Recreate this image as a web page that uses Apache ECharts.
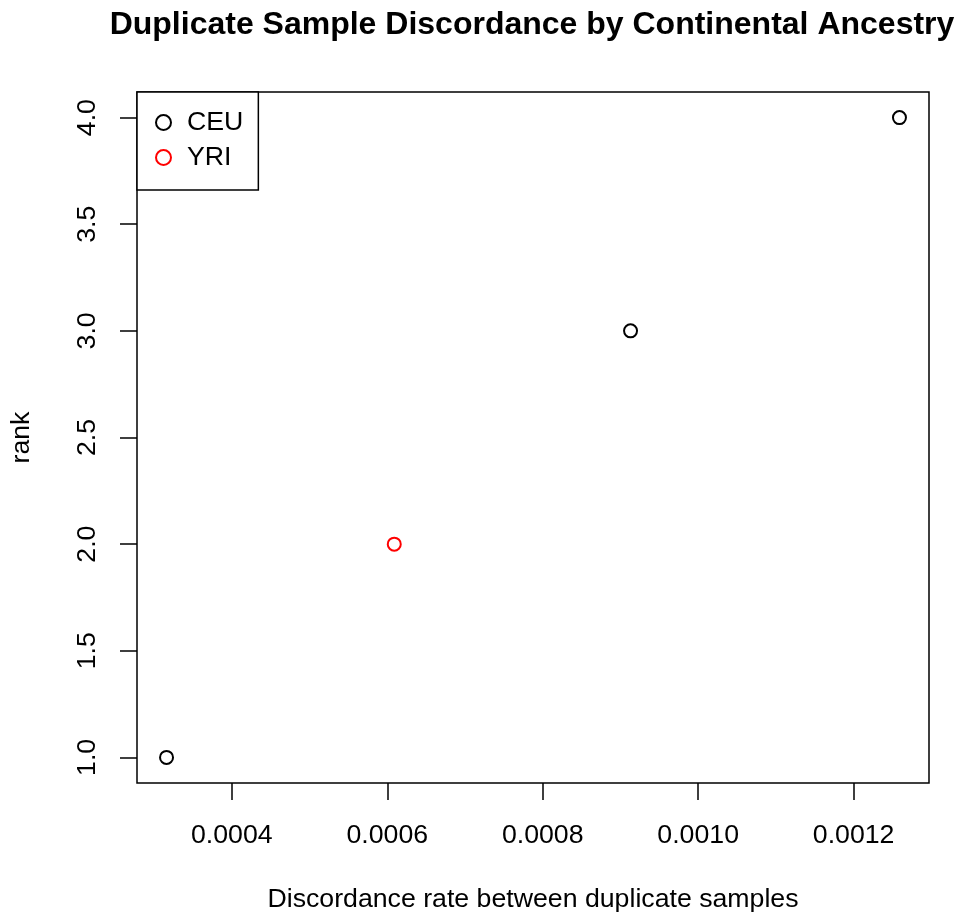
<!DOCTYPE html>
<html><head><meta charset="utf-8">
<script src="https://cdn.jsdelivr.net/npm/echarts@6/dist/echarts.min.js"></script>
<style>html,body{margin:0;padding:0;background:#fff}#c{width:964px;height:918px}</style>
</head><body><div id="c"></div>
<script>
const ceuX = [0.000316, 0.000913, 0.001259];
const ceuY = [1, 3, 4];
const yriX = [0.000609];
const yriY = [2];
const xTicks = [0.0004, 0.0006, 0.0008, 0.0010, 0.0012];
const yTicks = [1.0, 1.5, 2.0, 2.5, 3.0, 3.5, 4.0];
const xMin = 0.000278, xMax = 0.001297, yMin = 0.88, yMax = 4.12;

const FONT = 'Liberation Sans, Arial, sans-serif';
const FS = 26.7;
const chart = echarts.init(document.getElementById('c'), null, {renderer: 'canvas'});
chart.setOption({
  animation: false,
  backgroundColor: '#fff',
  textStyle: {fontFamily: FONT},
  title: {
    text: 'Duplicate Sample Discordance by Continental Ancestry',
    left: 527, top: 4, textAlign: 'center',
    textStyle: {fontFamily: FONT, fontSize: 32, fontWeight: 'bold', color: '#000'}
  },
  grid: {left: 137, right: 35, top: 92, bottom: 135, show: true, borderColor: '#000', borderWidth: 1.5, backgroundColor: 'transparent'},
  legend: {
    orient: 'vertical', left: 137, top: 92,
    borderColor: '#000', borderWidth: 1.5, borderRadius: 0,
    padding: [17, 15, 19, 18], itemGap: 8, itemWidth: 15, itemHeight: 15,
    backgroundColor: '#fff',
    textStyle: {fontFamily: FONT, fontSize: FS, color: '#000', padding: [0, 0, 0, 11]},
    data: ['CEU', 'YRI']
  },
  xAxis: {
    type: 'value', min: xMin, max: xMax,
    name: 'Discordance rate between duplicate samples', nameLocation: 'middle', nameGap: 103,
    nameTextStyle: {fontFamily: FONT, fontSize: FS, color: '#000'},
    axisLine: {show: false},
    splitLine: {show: false},
    axisTick: {show: true, inside: false, length: 17, customValues: xTicks, lineStyle: {color: '#000', width: 1.5}},
    axisLabel: {show: true, customValues: xTicks, margin: 39, fontFamily: FONT, fontSize: FS, color: '#000',
      formatter: v => v.toFixed(4)}
  },
  yAxis: {
    type: 'value', min: yMin, max: yMax,
    name: 'rank', nameLocation: 'middle', nameGap: 102, nameRotate: 90,
    nameTextStyle: {fontFamily: FONT, fontSize: FS, color: '#000'},
    axisLine: {show: false},
    splitLine: {show: false},
    axisTick: {show: true, inside: false, length: 17, customValues: yTicks, lineStyle: {color: '#000', width: 1.5}},
    axisLabel: {show: true, customValues: yTicks, margin: 36, rotate: 90, fontFamily: FONT, fontSize: FS, color: '#000',
      formatter: v => v.toFixed(1)}
  },
  series: [
    {name: 'CEU', type: 'scatter', symbol: 'emptyCircle', symbolSize: 13,
      itemStyle: {color: '#000', borderColor: '#000', borderWidth: 1.6, opacity: 1},
      data: ceuX.map((x, i) => [x, ceuY[i]])},
    {name: 'YRI', type: 'scatter', symbol: 'emptyCircle', symbolSize: 13,
      itemStyle: {color: '#ff0000', borderColor: '#ff0000', borderWidth: 1.6, opacity: 1},
      data: yriX.map((x, i) => [x, yriY[i]])}
  ]
});
</script></body></html>
